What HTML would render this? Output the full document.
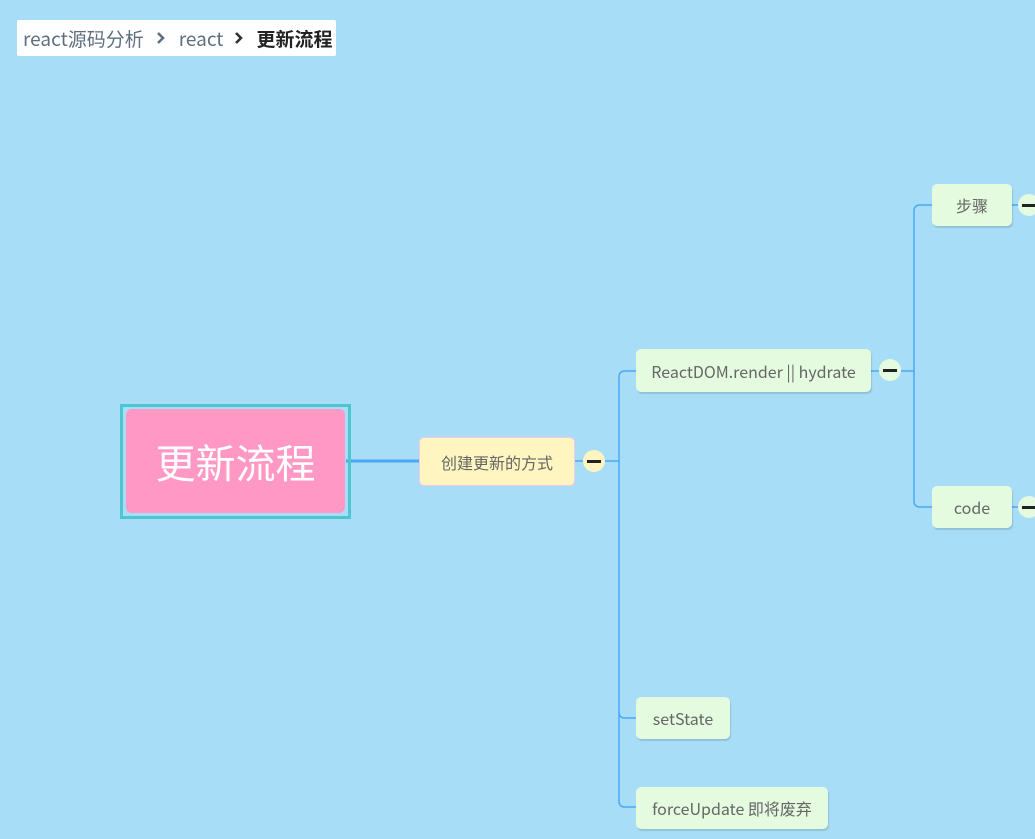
<!DOCTYPE html>
<html><head><meta charset="utf-8"><style>
*{margin:0;padding:0;box-sizing:border-box}
body{width:1035px;height:839px;overflow:hidden;background:#a8ddf8;position:relative;font-family:"Noto Sans CJK SC","Liberation Sans",sans-serif}
.n{position:absolute;background:#e4fbe0;border-radius:5px;box-shadow:1px 2px 1px rgba(0,0,0,.13);color:#666;font-size:16px;display:flex;align-items:center;justify-content:center;white-space:nowrap}
.c{position:absolute;width:22px;height:22px;border-radius:50%;background:#e4fbe0}
.c::after{content:"";position:absolute;left:4px;top:10px;width:14px;height:2.5px;background:#222}
.bc{position:absolute;left:17px;top:20px;width:319px;height:36px;background:#fff;border-radius:2px;font-size:19px;color:#5f6f80;display:flex;align-items:center;padding-left:6px;white-space:nowrap;line-height:1}
.bc svg{flex-shrink:0;display:block}
</style></head><body>
<div class="bc">react源码分析<svg width="10" height="14" style="margin:0 13px 0 12px" viewBox="0 0 10 14"><path d="M2 2 L7 7 L2 12" stroke="#5f6f80" stroke-width="2.6" fill="none"/></svg>react<svg width="10" height="14" style="margin:0 12px 0 11px" viewBox="0 0 10 14"><path d="M2 2 L7 7 L2 12" stroke="#333" stroke-width="2.6" fill="none"/></svg><b style="color:#222">更新流程</b></div>
<svg style="position:absolute;left:0;top:0" width="1035" height="839" fill="none" stroke="#4aa8f5" stroke-width="1.5">
<line x1="346" y1="461" x2="419" y2="461" stroke-width="3"/>
<line x1="575" y1="461" x2="619" y2="461"/>
<path d="M636 371 H625 Q619 371 619 377 V801 Q619 807 625 807 H636"/>
<path d="M619 712 Q619 718 625 718 H636"/>
<line x1="871" y1="371" x2="914" y2="371"/>
<path d="M932 205 H920 Q914 205 914 211 V501 Q914 507 920 507 H932"/>
<line x1="1012" y1="205" x2="1020" y2="205"/>
<line x1="1012" y1="507" x2="1020" y2="507"/>
</svg>
<div style="position:absolute;left:120px;top:404px;width:231px;height:115px;border:3px solid #4fc6cf"></div>
<div style="position:absolute;left:126px;top:409px;width:219px;height:104px;background:#ff98c5;border-radius:6px;color:#fff;font-size:40px;display:flex;align-items:center;justify-content:center">更新流程</div>
<div class="n" style="left:419px;top:437px;width:156px;height:49px;background:#fff5c0;border:1px solid #f6c8e6;box-shadow:none">创建更新的方式</div>
<div class="c" style="left:583px;top:450px;background:#fff5c0"></div>
<div class="n" style="left:636px;top:349px;width:235px;height:43px">ReactDOM.render || hydrate</div>
<div class="c" style="left:879px;top:359px"></div>
<div class="n" style="left:932px;top:184px;width:80px;height:42px">步骤</div>
<div class="c" style="left:1018px;top:194px"></div>
<div class="n" style="left:932px;top:486px;width:80px;height:42px">code</div>
<div class="c" style="left:1018px;top:496px"></div>
<div class="n" style="left:636px;top:697px;width:94px;height:42px">setState</div>
<div class="n" style="left:636px;top:787px;width:192px;height:42px">forceUpdate 即将废弃</div>
</body></html>
